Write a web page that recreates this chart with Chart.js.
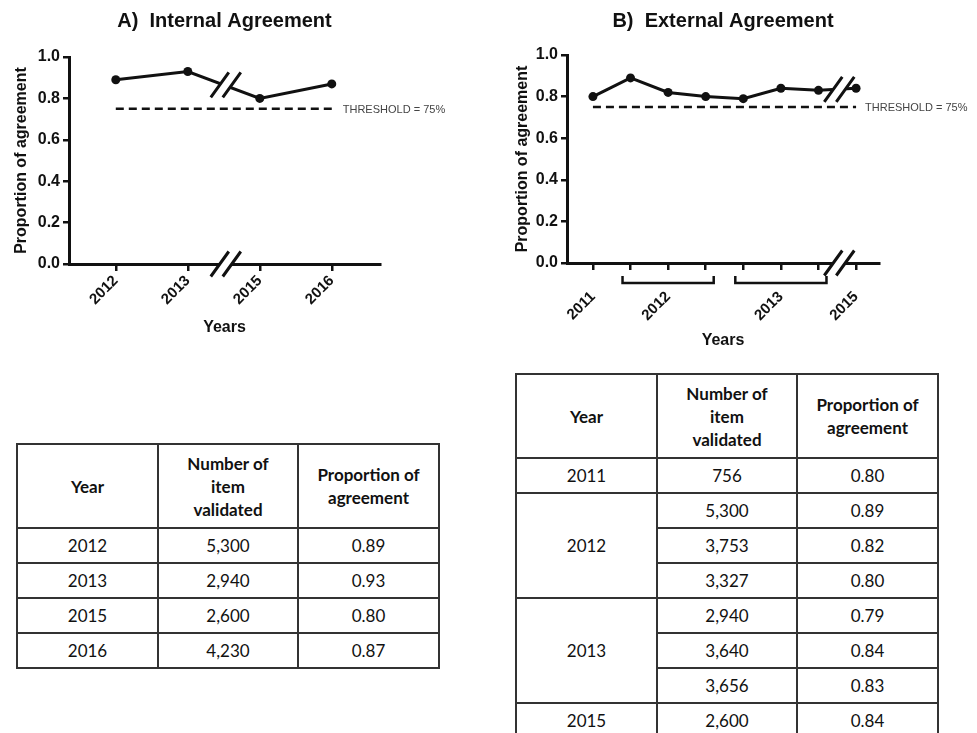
<!DOCTYPE html>
<html><head><meta charset="utf-8">
<script src="https://cdn.jsdelivr.net/npm/chart.js@4/dist/chart.umd.min.js"></script>
<style>
html,body{margin:0;padding:0;background:#fff;}
body{width:977px;height:733px;position:relative;overflow:hidden;}
.cv{position:absolute;}
table{position:absolute;border-collapse:collapse;table-layout:fixed;font-family:Lato,'Open Sans',sans-serif;font-size:17px;color:#111;}
td,th{border:2px solid #333;text-align:center;padding:0;}
th{font-weight:bold;line-height:23px;height:82px;}
td{height:33px;}
</style></head>
<body>
<canvas id="ca" class="cv" width="450" height="345" style="left:0;top:0"></canvas>
<canvas id="cb" class="cv" width="487" height="360" style="left:490px;top:0"></canvas>
<table id="ta" style="left:16px;top:443px;width:422px"></table>
<table id="tb" style="left:515px;top:373px;width:422px"></table>
<script>
// ---- data ----
const titleA = 'A)  Internal Agreement';
const titleB = 'B)  External Agreement';
const yearsA = ['2012','2013','2015','2016'];
const propA  = [0.89, 0.93, 0.80, 0.87];
const itemsA = ['5,300','2,940','2,600','4,230'];
const yearsB = ['2011','2012','2012','2012','2013','2013','2013','2015'];
const propB  = [0.80, 0.89, 0.82, 0.80, 0.79, 0.84, 0.83, 0.84];
const itemsB = ['756','5,300','3,753','3,327','2,940','3,640','3,656','2,600'];
const threshold = 0.75;
const thresholdLabel = 'THRESHOLD = 75%';
const yTickLabels = ['0.0','0.2','0.4','0.6','0.8','1.0'];
const yTitle = 'Proportion of agreement';
const xTitle = 'Years';
const tableHeaders = ['Year','Number of<br>item<br>validated','Proportion of<br>agreement'];
const propText = v => v.toFixed(2);

Chart.defaults.font.family = "'Liberation Sans', Arial, sans-serif";
Chart.defaults.color = '#111';

function groupsOf(years){
  const g=[];
  years.forEach((y,i)=>{
    if(g.length && g[g.length-1].year===y){g[g.length-1].last=i;}
    else g.push({year:y,first:i,last:i});
  });
  return g;
}

function slash(ctx,cx,cy){
  const dx=9, dy=12.5, s=6;
  ctx.save();
  ctx.fillStyle='#fff';
  ctx.beginPath();
  ctx.moveTo(cx-s-dx,cy+dy);ctx.lineTo(cx-s+dx,cy-dy);
  ctx.lineTo(cx+s+dx,cy-dy);ctx.lineTo(cx+s-dx,cy+dy);ctx.closePath();ctx.fill();
  ctx.strokeStyle='#111';ctx.lineWidth=3;ctx.lineCap='butt';
  ctx.beginPath();
  ctx.moveTo(cx-s-dx,cy+dy);ctx.lineTo(cx-s+dx,cy-dy);
  ctx.moveTo(cx+s-dx,cy+dy);ctx.lineTo(cx+s+dx,cy-dy);
  ctx.stroke();
  ctx.restore();
}

function makeChart(id, cfg){
  const groups = groupsOf(cfg.years);
  const n = cfg.years.length;
  const labelAt = v => {
    for(const g of groups){ if(Math.abs((g.first+g.last)/2 - v)<1e-6) return g.year; }
    return '';
  };
  const deco = {
    id:'deco',
    afterDraw(chart){
      const ctx=chart.ctx, xs=chart.scales.x, ys=chart.scales.y, ca=chart.chartArea;
      ctx.save();
      ctx.font="bold 20px 'Liberation Sans', Arial, sans-serif";
      ctx.fillStyle='#111';ctx.textAlign='center';ctx.textBaseline='middle';
      ctx.fillText(cfg.title,(ca.left+ca.right)/2,21);
      ctx.font="11px 'Liberation Sans', Arial, sans-serif";
      ctx.fillStyle='#444';ctx.textAlign='left';
      ctx.fillText(thresholdLabel, xs.getPixelForValue(n-1)+cfg.thrOffset, ys.getPixelForValue(threshold)+1);
      ctx.strokeStyle='#111';ctx.lineWidth=2.5;
      const by = ys.getPixelForValue(0)+20;
      for(const g of groups){
        if(g.last>g.first){
          const x1=xs.getPixelForValue(g.first)-8, x2=xs.getPixelForValue(g.last)+8;
          ctx.beginPath();
          ctx.moveTo(x1,by-7);ctx.lineTo(x1,by);ctx.lineTo(x2,by);ctx.lineTo(x2,by-7);
          ctx.stroke();
        }
      }
      ctx.restore();
      const b=cfg.breakAfter;
      const cx=(xs.getPixelForValue(b)+xs.getPixelForValue(b+1))/2+2;
      slash(ctx,cx,ys.getPixelForValue((cfg.props[b]+cfg.props[b+1])/2));
      slash(ctx,cx,ys.getPixelForValue(0));
    }
  };
  return new Chart(document.getElementById(id),{
    type:'line',
    data:{datasets:[
      {data:cfg.props.map((v,i)=>({x:i,y:v})),borderColor:'#111',borderWidth:3,
       pointRadius:4.5,pointBackgroundColor:'#111',pointBorderWidth:0,tension:0,clip:false},
      {data:[{x:0,y:threshold},{x:n-1,y:threshold}],borderColor:'#111',borderWidth:2.5,
       borderDash:[8,5],pointRadius:0,clip:false}
    ]},
    options:{
      responsive:false,animation:false,devicePixelRatio:1,
      layout:{padding:{top:cfg.padTop,right:cfg.padRight,left:0,bottom:0}},
      plugins:{legend:{display:false},tooltip:{enabled:false}},
      scales:{
        x:{type:'linear',min:cfg.xmin,max:cfg.xmax,
          afterBuildTicks(s){s.ticks=cfg.years.map((_,i)=>({value:i}));},
          afterFit(s){s.height=cfg.xHeight;},
          ticks:{autoSkip:false,minRotation:45,maxRotation:45,padding:cfg.xTickPad,
            font:{weight:'bold',size:15},color:'#111',callback:v=>labelAt(v)},
          grid:{drawOnChartArea:false,drawTicks:true,tickLength:7,color:'#111',lineWidth:2.5},
          border:{display:true,color:'#111',width:3},
          title:{display:true,text:xTitle,font:{weight:'bold',size:16},color:'#111',
            padding:{top:0,bottom:cfg.xTitlePad}}
        },
        y:{min:0,max:1,
          afterFit(s){s.width=cfg.yWidth;},
          ticks:{stepSize:0.2,padding:3,font:{weight:'bold',size:16},color:'#111',
            callback:(v,i)=>yTickLabels[i]},
          grid:{drawOnChartArea:false,drawTicks:true,tickLength:6,color:'#111',lineWidth:2.5},
          border:{display:true,color:'#111',width:3},
          title:{display:true,text:yTitle,font:{weight:'bold',size:16},color:'#111',
            padding:{top:cfg.yTitlePad,bottom:0}}
        }
      }
    },
    plugins:[deco]
  });
}

makeChart('ca',{title:titleA,years:yearsA,props:propA,xmin:-0.65,xmax:3.67,breakAfter:1,
  yWidth:69,padTop:57,padRight:70,xHeight:81,xTickPad:1,xTitlePad:8,yTitlePad:12,thrOffset:11});
makeChart('cb',{title:titleB,years:yearsB,props:propB,xmin:-0.69,xmax:7.61,breakAfter:6,
  yWidth:77,padTop:55,padRight:98,xHeight:97,xTickPad:18,xTitlePad:10,yTitlePad:23,thrOffset:9});

// ---- tables ----
function buildTable(id, years, items, props){
  const t=document.getElementById(id);
  let h='<colgroup><col style="width:141px"><col style="width:140px"><col style="width:141px"></colgroup>';
  h+='<tr>'+tableHeaders.map(x=>'<th>'+x+'</th>').join('')+'</tr>';
  const groups=groupsOf(years);
  years.forEach((y,i)=>{
    h+='<tr>';
    const g=groups.find(g=>g.first===i);
    if(g) h+='<td rowspan="'+(g.last-g.first+1)+'">'+y+'</td>';
    h+='<td>'+items[i]+'</td><td>'+propText(props[i])+'</td></tr>';
  });
  t.innerHTML=h;
}
buildTable('ta',yearsA,itemsA,propA);
buildTable('tb',yearsB,itemsB,propB);
</script>
</body></html>
